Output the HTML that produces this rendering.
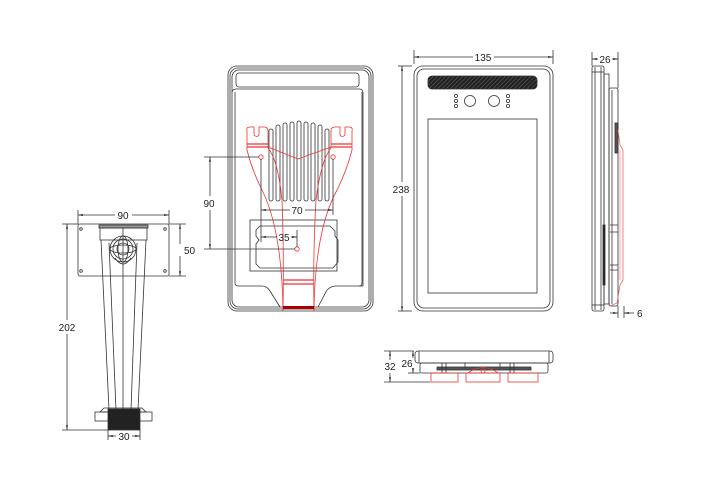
<!DOCTYPE html>
<html><head><meta charset="utf-8"><style>
html,body{margin:0;padding:0;background:#fff;}
svg{display:block;}
text{font-family:"Liberation Sans",sans-serif;font-size:10px;fill:#222;}
</style></head><body>
<svg width="702" height="496" viewBox="0 0 702 496" xmlns="http://www.w3.org/2000/svg">
<defs>
<marker id="a" viewBox="0 0 10 10" refX="10" refY="5" markerWidth="6" markerHeight="6" orient="auto-start-reverse"><path d="M0,3 L10,5 L0,7 z" fill="#222"/></marker>
<pattern id="h" width="3" height="3" patternUnits="userSpaceOnUse" patternTransform="rotate(45)"><rect width="3" height="3" fill="#222"/><line x1="0" y1="0" x2="0" y2="3" stroke="#666" stroke-width="1"/></pattern>
</defs>
<g fill="none" stroke="#333" stroke-width="0.8">

<!-- ===== Stand ===== -->
<rect x="78" y="224" width="91" height="52" rx="2"/>
<circle cx="81" cy="229" r="1.3"/><circle cx="165" cy="229" r="1.3"/>
<circle cx="81" cy="271" r="1.3"/><circle cx="165" cy="271" r="1.3"/>
<rect x="99" y="225" width="49" height="3" fill="#999"/>
<rect x="100" y="228" width="47" height="12"/>
<circle cx="123" cy="249" r="13"/><circle cx="123" cy="249" r="10"/><circle cx="123" cy="249" r="6"/>
<ellipse cx="123" cy="249" rx="13" ry="4"/><ellipse cx="123" cy="249" rx="5" ry="13"/>
<path d="M115,258 Q123,270 131,258"/>
<path d="M101,240 L109,410 M146,240 L138,410 M109,243 L116,410 M137,243 L131,410"/>
<line x1="123" y1="228" x2="123" y2="410"/>
<path d="M104,408 L142,408 L146,412 L100,412 z"/>
<rect x="95" y="412" width="57" height="9"/>
<rect x="108" y="409" width="32" height="21" fill="#222"/>
<!-- dims -->
<line x1="78" y1="210" x2="78" y2="224"/><line x1="169" y1="210" x2="169" y2="224"/>
<line x1="78" y1="215" x2="115" y2="215" marker-start="url(#a)"/><line x1="132" y1="215" x2="169" y2="215" marker-end="url(#a)"/>
<line x1="169" y1="224" x2="186" y2="224"/><line x1="169" y1="276" x2="186" y2="276"/>
<line x1="180" y1="224" x2="180" y2="244" marker-start="url(#a)"/><line x1="180" y1="256" x2="180" y2="276" marker-end="url(#a)"/>
<line x1="62" y1="224" x2="78" y2="224"/><line x1="62" y1="430" x2="108" y2="430"/>
<line x1="67" y1="224" x2="67" y2="320" marker-start="url(#a)"/><line x1="67" y1="334" x2="67" y2="430" marker-end="url(#a)"/>
<line x1="108" y1="430" x2="108" y2="440"/><line x1="140" y1="430" x2="140" y2="440"/>
<line x1="108" y1="436" x2="116" y2="436" marker-start="url(#a)"/><line x1="132" y1="436" x2="140" y2="436" marker-end="url(#a)"/>

<!-- ===== Back view ===== -->
<rect x="228" y="66" width="145" height="245" rx="9"/>
<rect x="230" y="68" width="141" height="241" rx="8"/>
<rect x="232" y="70" width="137" height="237" rx="7"/>
<rect x="236" y="73" width="123" height="14" rx="3"/>
<path d="M236,89 L359,89 Q363,89 363,93 L363,286 L336,286 Q331,286 327,290 L318,307 M236,89 Q232,89 232,93 M235,92 L235,283 Q235,286 238,286 L262,286 Q267,286 270,291 L280,307"/>
<path d="M362,92 L362,283 Q362,286 359,286"/>
<!-- slots -->
<g>
<rect x="269" y="129" width="4" height="72" rx="2"/>
<rect x="276" y="125" width="4" height="76" rx="2"/>
<rect x="283" y="123" width="4" height="78" rx="2"/>
<rect x="290" y="122" width="4" height="79" rx="2"/>
<rect x="297" y="121" width="4" height="80" rx="2"/>
<rect x="304" y="122" width="4" height="79" rx="2"/>
<rect x="311" y="123" width="4" height="78" rx="2"/>
<rect x="318" y="125" width="4" height="76" rx="2"/>
<rect x="325" y="129" width="4" height="72" rx="2"/>
</g>
<rect x="250" y="220" width="87" height="51"/>
<path d="M260,226 L330,226 L335,231 L335,236 L338,240 L338,262 L333,268 L260,268 L256,264 L256,244 L259,240 L256,236 L256,230 z"/>
<!-- red overlay -->
<g stroke="#e33" stroke-width="0.8">
<path d="M247,131 Q246,127 250,127 L254,127 L254,135 Q257,138 259,135 L259,127 L264,127 Q268,127 268,131 L268,148 Q278,160 282,200 Q284,250 283,311"/>
<path d="M247,131 L247,150 Q252,170 262,190 Q282,230 283,311"/>
<path d="M352,131 Q353,127 349,127 L345,127 L345,135 Q342,138 340,135 L340,127 L335,127 Q331,127 331,131 L331,148 Q321,160 316,200 Q313,250 314,311"/>
<path d="M352,131 L352,150 Q347,170 337,190 Q315,230 314,311"/>
<path d="M268,147 L298,159 L331,147"/>
<line x1="247" y1="144" x2="268" y2="144" stroke-width="1.3"/><line x1="247" y1="147" x2="268" y2="147" stroke-width="1.3"/>
<line x1="331" y1="144" x2="352" y2="144" stroke-width="1.3"/><line x1="331" y1="147" x2="352" y2="147" stroke-width="1.3"/>
<line x1="283" y1="280" x2="314" y2="280" stroke-width="1.3"/><line x1="283" y1="284" x2="314" y2="284" stroke-width="1.3"/>
<circle cx="261" cy="157" r="2.2"/><circle cx="333" cy="157" r="2.2"/><circle cx="297" cy="249" r="2.2"/>
</g>
<rect x="283" y="306" width="31" height="3" fill="#a00" stroke="none"/>
<!-- dims -->
<line x1="261" y1="159" x2="261" y2="242"/><line x1="333" y1="159" x2="333" y2="215"/>
<line x1="261" y1="210" x2="290" y2="210" marker-start="url(#a)"/><line x1="305" y1="210" x2="333" y2="210" marker-end="url(#a)"/>
<line x1="297" y1="230" x2="297" y2="247"/>
<line x1="261" y1="237" x2="277" y2="237" marker-start="url(#a)"/><line x1="291" y1="237" x2="297" y2="237" marker-end="url(#a)"/>
<line x1="204" y1="157" x2="259" y2="157"/><line x1="204" y1="249" x2="295" y2="249"/>
<line x1="210" y1="157" x2="210" y2="196" marker-start="url(#a)"/><line x1="210" y1="210" x2="210" y2="249" marker-end="url(#a)"/>

<!-- ===== Front view ===== -->
<rect x="414" y="66" width="139" height="245" rx="9"/>
<rect x="417" y="69" width="133" height="239" rx="7"/>
<rect x="428" y="76" width="109" height="13" rx="4" fill="url(#h)"/>
<circle cx="470" cy="101" r="5.5"/><circle cx="494" cy="101" r="5.5"/>
<circle cx="456" cy="96" r="1.6"/><circle cx="456" cy="101" r="1.6"/><circle cx="456" cy="106" r="1.6"/>
<circle cx="508" cy="96" r="1.6"/><circle cx="508" cy="101" r="1.6"/><circle cx="508" cy="106" r="1.6"/>
<rect x="428" y="119" width="109" height="174"/>
<line x1="414" y1="50" x2="414" y2="64"/><line x1="553" y1="50" x2="553" y2="64"/>
<line x1="414" y1="57" x2="473" y2="57" marker-start="url(#a)"/><line x1="494" y1="57" x2="553" y2="57" marker-end="url(#a)"/>
<line x1="398" y1="66" x2="412" y2="66"/><line x1="398" y1="311" x2="412" y2="311"/>
<line x1="402" y1="66" x2="402" y2="182" marker-start="url(#a)"/><line x1="402" y1="196" x2="402" y2="311" marker-end="url(#a)"/>

<!-- ===== Side view ===== -->
<rect x="592" y="66" width="12" height="245" rx="2"/>
<line x1="595" y1="67" x2="595" y2="310"/><line x1="601" y1="67" x2="601" y2="310"/>
<line x1="592" y1="72" x2="604" y2="72"/><line x1="592" y1="305" x2="604" y2="305"/>
<rect x="604" y="74" width="5" height="230"/>
<rect x="609" y="88" width="9" height="218" rx="2"/>
<line x1="612" y1="90" x2="612" y2="304"/>
<rect x="615" y="123" width="3" height="30" fill="#555"/>
<rect x="603" y="225" width="2" height="60" fill="#222"/>
<path d="M610,225 L618,225 M610,232 L618,232 M610,265 L618,265 M610,270 L618,270"/>
<path d="M618,130 L620,145 L623,150 L623,280 L620,285 L617,303 L610,306" stroke="#e66"/>
<path d="M620,150 L620,280" stroke="#f99"/>
<line x1="592" y1="52" x2="592" y2="66"/><line x1="618" y1="52" x2="618" y2="88"/>
<line x1="592" y1="59" x2="598" y2="59" marker-start="url(#a)"/><line x1="612" y1="59" x2="618" y2="59" marker-end="url(#a)"/>
<line x1="618" y1="306" x2="618" y2="318"/><line x1="624" y1="306" x2="624" y2="318"/>
<line x1="610" y1="313" x2="618" y2="313" marker-end="url(#a)"/><line x1="634" y1="313" x2="624" y2="313" marker-end="url(#a)"/>

<!-- ===== Bottom view ===== -->
<rect x="415" y="351" width="138" height="12" rx="3"/>
<line x1="419" y1="351" x2="419" y2="363"/><line x1="549" y1="351" x2="549" y2="363"/>
<rect x="420" y="363" width="128" height="10" rx="2"/>
<rect x="437" y="367" width="94" height="3" fill="#555"/>
<path d="M442,363 L442,373 M446,363 L446,373 M510,363 L510,373 M514,363 L514,373 M465,363 L465,367 M500,363 L500,367"/>
<g stroke="#e33">
<rect x="431" y="373" width="27" height="9"/>
<rect x="466" y="373" width="34" height="9"/>
<rect x="508" y="373" width="30" height="9"/>
<path d="M468,373 Q483,362 498,373"/><circle cx="483" cy="371" r="2"/>
</g>
<line x1="384" y1="351" x2="414" y2="351"/><line x1="384" y1="382" x2="430" y2="382"/><line x1="408" y1="373" x2="420" y2="373"/>
<line x1="390" y1="351" x2="390" y2="360" marker-start="url(#a)"/><line x1="390" y1="373" x2="390" y2="382" marker-end="url(#a)"/>
<line x1="413" y1="351" x2="413" y2="358" marker-start="url(#a)"/><line x1="413" y1="368" x2="413" y2="373" marker-end="url(#a)"/>
</g>

<g>
<text x="123" y="219" text-anchor="middle">90</text>
<text x="184" y="254">50</text>
<text x="67" y="331" text-anchor="middle">202</text>
<text x="124" y="440" text-anchor="middle">30</text>
<text x="297" y="214" text-anchor="middle">70</text>
<text x="284" y="241" text-anchor="middle">35</text>
<text x="209" y="207" text-anchor="middle">90</text>
<text x="483" y="61" text-anchor="middle">135</text>
<text x="401" y="193" text-anchor="middle">238</text>
<text x="605" y="63" text-anchor="middle">26</text>
<text x="637" y="317">6</text>
<text x="390" y="370" text-anchor="middle">32</text>
<text x="407" y="367" text-anchor="middle">26</text>
</g>
</svg>
</body></html>
